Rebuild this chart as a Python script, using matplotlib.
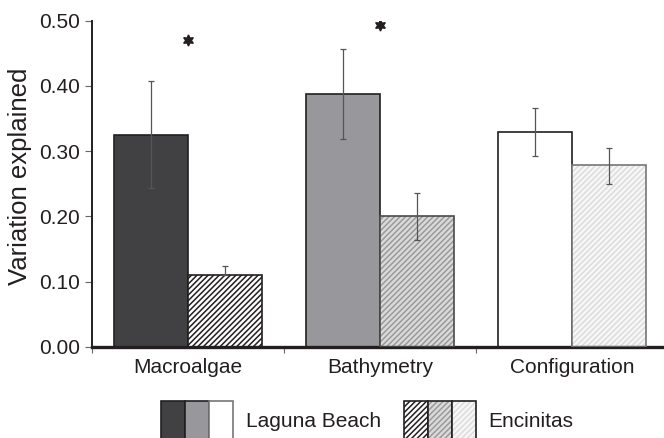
import matplotlib
matplotlib.use('Agg')
import matplotlib.pyplot as plt
import matplotlib.patches as mpatches
from matplotlib.legend_handler import HandlerTuple
import numpy as np

# ---- data ----
categories = ['Macroalgae', 'Bathymetry', 'Configuration']
laguna = [0.325, 0.388, 0.330]
laguna_lo = [0.243, 0.319, 0.292]
laguna_hi = [0.407, 0.457, 0.366]
encinitas = [0.110, 0.200, 0.278]
enc_lo = [0.110, 0.163, 0.250]
enc_hi = [0.124, 0.235, 0.304]
star_cat = [0, 1]
star_y = [0.470, 0.494]
yticks = [0.0, 0.1, 0.2, 0.3, 0.4, 0.5]
ytick_labels = ['0.00', '0.10', '0.20', '0.30', '0.40', '0.50']
series_labels = ['Laguna Beach', 'Encinitas']

# ---- styles ----
lb_colors = ['#414042', '#98979b', '#ffffff']
enc_bg = ['#ffffff', '#dadada', '#f7f7f7']
enc_hatch = ['#231f20', '#9a9a9a', '#dcdcdc']
enc_edge = ['#231f20', '#4a4a4a', '#777777']
lb_edge = ['#231f20', '#231f20', '#231f20']
text_color = '#231f20'
HATCH = '//////'

plt.rcParams['font.family'] = ['Liberation Sans', 'DejaVu Sans']
plt.rcParams['hatch.linewidth'] = 1.1

fig = plt.figure(figsize=(6.64, 4.38), dpi=100)
ax = fig.add_axes([92.3 / 664, 1 - 346.7 / 438, 576 / 664, 326 / 438])

x = np.arange(len(categories))
w = 0.386

ax.bar(x - w / 2, laguna, width=w, color=lb_colors, edgecolor=lb_edge,
       linewidth=1.2, zorder=2)
ax.bar(x + w / 2, encinitas, width=w, color=enc_bg, edgecolor=enc_hatch,
       hatch=HATCH, linewidth=0, zorder=2)
ax.bar(x + w / 2, encinitas, width=w, fill=False, edgecolor=enc_edge,
       linewidth=1.2, zorder=3)

lb = np.array(laguna)
en = np.array(encinitas)
ax.errorbar(x - w / 2, lb, yerr=[lb - np.array(laguna_lo), np.array(laguna_hi) - lb],
            fmt='none', ecolor='#555555', elinewidth=0.9, capsize=2.5,
            capthick=0.9, zorder=4)
ax.errorbar(x + w / 2, en, yerr=[en - np.array(enc_lo), np.array(enc_hi) - en],
            fmt='none', ecolor='#555555', elinewidth=0.9, capsize=2.5,
            capthick=0.9, zorder=4)

ax.plot(np.array(star_cat), star_y, linestyle='none', marker=(6, 1, 0),
        markersize=8, color=text_color, zorder=5)

ax.set_xlim(-0.5, 2.5)
ax.set_ylim(0, 0.5)
ax.set_xticks(x)
ax.set_xticklabels(categories, fontsize=15, color=text_color)
ax.set_xticks([-0.5, 0.5, 1.5], minor=True)
ax.tick_params(axis='x', which='major', length=0, pad=8)
ax.tick_params(axis='x', which='minor', length=4, width=0.8, color='#666666')
ax.set_yticks(yticks)
ax.set_yticklabels(ytick_labels, fontsize=15, color=text_color)
ax.tick_params(axis='y', length=5, width=0.8, color='#666666', pad=4)
ax.set_ylabel('Variation explained', fontsize=18.5, color=text_color)
ax.yaxis.set_label_coords(-0.104, 0.522)

for s in ['top', 'right']:
    ax.spines[s].set_visible(False)
ax.spines['left'].set_linewidth(1.4)
ax.spines['left'].set_color(text_color)
ax.spines['bottom'].set_linewidth(2.4)
ax.spines['bottom'].set_color(text_color)


class Overlay(tuple):
    pass


lb_handles = tuple(mpatches.Patch(facecolor=c, edgecolor='#231f20' if i < 2 else '#777777',
                                  linewidth=1.2) for i, c in enumerate(lb_colors))
enc_handles = tuple(
    Overlay((mpatches.Patch(facecolor=enc_bg[i], edgecolor=enc_hatch[i], hatch=HATCH, linewidth=0),
             mpatches.Patch(fill=False, edgecolor='#231f20', linewidth=1.2)))
    for i in range(3))

fig.legend([lb_handles, enc_handles], series_labels,
           handler_map={tuple: HandlerTuple(ndivide=None, pad=0),
                        Overlay: HandlerTuple(ndivide=1, pad=0)},
           loc='center left', bbox_to_anchor=(161 / 664, 1 - 421 / 438),
           ncol=2, frameon=False, fontsize=15, handlelength=3.46,
           handleheight=2.6, handletextpad=0.6, columnspacing=1.1,
           borderpad=0, borderaxespad=0, labelcolor=text_color)

fig.savefig('out.png', dpi=100)
